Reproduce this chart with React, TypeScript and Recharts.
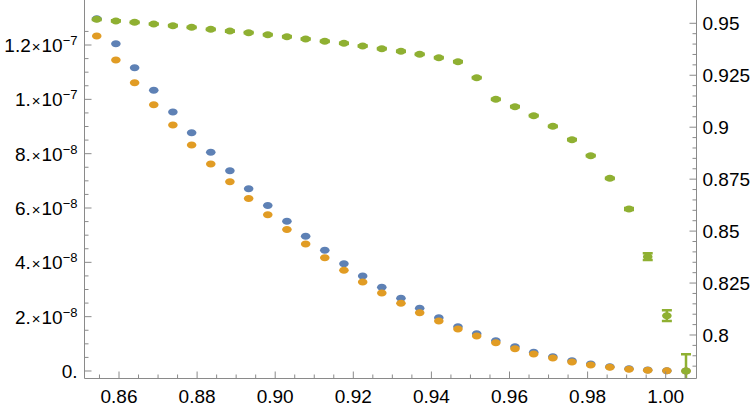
import React from 'react';
import { ScatterChart, Scatter, XAxis, YAxis, ErrorBar } from 'recharts';

// x positions shared by all three series
const xValues = [
  0.8543, 0.8592, 0.864, 0.8689, 0.8738, 0.8786, 0.8835, 0.8884,
  0.8932, 0.8981, 0.903, 0.9078, 0.9127, 0.9176, 0.9224, 0.9273,
  0.9322, 0.937, 0.9419, 0.9468, 0.9516, 0.9565, 0.9614, 0.9662,
  0.9711, 0.976, 0.9808, 0.9857, 0.9906, 0.9954, 1.0003, 1.0052,
];

const blueValues = [
  1.297e-7, 1.2048e-7, 1.1165e-7, 1.0333e-7, 9.534e-8, 8.772e-8, 8.05e-8, 7.373e-8,
  6.711e-8, 6.092e-8, 5.51e-8, 4.958e-8, 4.443e-8, 3.95e-8, 3.497e-8, 3.081e-8,
  2.676e-8, 2.308e-8, 1.962e-8, 1.631e-8, 1.373e-8, 1.115e-8, 8.94e-9, 6.88e-9,
  5.26e-9, 3.79e-9, 2.58e-9, 1.58e-9, 8.5e-10, 3.7e-10, 1.1e-10, 0,
];

const orangeValues = [
  1.2332e-7, 1.1448e-7, 1.0613e-7, 9.803e-8, 9.055e-8, 8.319e-8, 7.62e-8, 6.968e-8,
  6.35e-8, 5.754e-8, 5.209e-8, 4.675e-8, 4.171e-8, 3.707e-8, 3.276e-8, 2.871e-8,
  2.492e-8, 2.146e-8, 1.841e-8, 1.546e-8, 1.288e-8, 1.042e-8, 8.21e-9, 6.26e-9,
  4.79e-9, 3.31e-9, 2.21e-9, 1.36e-9, 6.3e-10, 2.6e-10, 5e-11, 0,
];

const greenValues = [
  0.95192, 0.95111, 0.95048, 0.94966, 0.94885, 0.94808, 0.94711, 0.94629,
  0.94548, 0.94451, 0.94355, 0.94245, 0.94134, 0.94038, 0.93908, 0.93778,
  0.93653, 0.93508, 0.93345, 0.93152, 0.92382, 0.91343, 0.90987, 0.90554,
  0.90044, 0.89399, 0.88629, 0.87541, 0.86064, 0.83769, 0.8093, 0.78269,
];

const greenErrors = [
  0.0003, 0.0003, 0.0003, 0.0003, 0.0003, 0.0003, 0.0003, 0.0003,
  0.0003, 0.0003, 0.0003, 0.0003, 0.0003, 0.0003, 0.0003, 0.0003,
  0.0003, 0.0003, 0.0003, 0.0003, 0.0003, 0.0003, 0.0003, 0.0003,
  0.0003, 0.0003, 0.0003, 0.0003, 0.0005, 0.0016, 0.0026, 0.008,
];

// tick values and labels
const xMajorTicks = [0.86, 0.88, 0.9, 0.92, 0.94, 0.96, 0.98, 1.0];
const xMinorTicks = [
  0.855, 0.865, 0.87, 0.875, 0.885, 0.89, 0.895, 0.905, 0.91, 0.915, 0.925, 0.93, 0.935,
  0.945, 0.95, 0.955, 0.965, 0.97, 0.975, 0.985, 0.99, 0.995, 1.005,
];
const leftMajorTicks = [0, 2e-8, 4e-8, 6e-8, 8e-8, 1e-7, 1.2e-7];
const leftMantissas = ['0.', '2.', '4.', '6.', '8.', '1.', '1.2'];
const leftExponents = ['', '\u22128', '\u22128', '\u22128', '\u22128', '\u22127', '\u22127'];
const leftMinorTicks = [
  5e-9, 1e-8, 1.5e-8, 2.5e-8, 3e-8, 3.5e-8, 4.5e-8, 5e-8, 5.5e-8, 6.5e-8, 7e-8, 7.5e-8,
  8.5e-8, 9e-8, 9.5e-8, 1.05e-7, 1.1e-7, 1.15e-7, 1.25e-7,
];
const rightMajorTicks = [0.8, 0.825, 0.85, 0.875, 0.9, 0.925, 0.95];
const rightLabels = ['0.8', '0.825', '0.85', '0.875', '0.9', '0.925', '0.95'];
const rightMinorTicks = [
  0.785, 0.79, 0.795, 0.805, 0.81, 0.815, 0.82, 0.83, 0.835, 0.84, 0.845, 0.855, 0.86,
  0.865, 0.87, 0.88, 0.885, 0.89, 0.895, 0.905, 0.91, 0.915, 0.92, 0.93, 0.935, 0.94, 0.945,
];

const BLUE = '#5E81B5';
const ORANGE = '#E19C24';
const GREEN = '#8FB032';
const AXIS = '#8a8a8a';
const FONT = '"Liberation Sans", Arial, sans-serif';

const blueData = xValues.map((x, i) => ({ x, y: blueValues[i] }));
const orangeData = xValues.map((x, i) => ({ x, y: orangeValues[i] }));
const greenData = xValues.map((x, i) => ({ x, y: greenValues[i], err: greenErrors[i] }));

const findIndex = (list: number[], v: number) =>
  list.findIndex((t) => Math.abs(t - v) < Math.abs(v) * 1e-6 + 1e-12);

const dot = (color: string) => (props: any) => (
  <ellipse cx={props.cx} cy={props.cy} rx={4.8} ry={3.5} fill={color} />
);

const XTick = (props: any) => {
  const { x, y, payload } = props;
  const idx = findIndex(xMajorTicks, payload.value);
  const major = idx >= 0;
  return (
    <g>
      <line x1={x} x2={x} y1={y} y2={y - (major ? 7 : 4)} stroke={AXIS} strokeWidth={1} />
      {major && (
        <text x={x} y={y + 24} textAnchor="middle" fontSize={19} fontFamily={FONT} fill="#000">
          {xMajorTicks[idx].toFixed(2)}
        </text>
      )}
    </g>
  );
};

const LeftTick = (props: any) => {
  const { x, y, payload } = props;
  const idx = findIndex(leftMajorTicks, payload.value);
  const major = idx >= 0;
  const exp = major ? leftExponents[idx] : '';
  return (
    <g>
      <line x1={x} x2={x + (major ? 7 : 4)} y1={y} y2={y} stroke={AXIS} strokeWidth={1} />
      {major && (
        <text x={x - 7} y={y + 7} textAnchor="end" fontSize={19} fontFamily={FONT} fill="#000">
          {exp ? (
            <>
              <tspan>{leftMantissas[idx]}</tspan>
              <tspan fontSize={15} dx={1}>{'\u00d7'}</tspan>
              <tspan dx={1}>10</tspan>
              <tspan fontSize={13} dy={-7}>{exp}</tspan>
            </>
          ) : (
            leftMantissas[idx]
          )}
        </text>
      )}
    </g>
  );
};

const RightTick = (props: any) => {
  const { x, y, payload } = props;
  const idx = findIndex(rightMajorTicks, payload.value);
  const major = idx >= 0;
  return (
    <g>
      <line x1={x} x2={x - (major ? 7 : 4)} y1={y} y2={y} stroke={AXIS} strokeWidth={1} />
      {major && (
        <text x={x + 6} y={y + 7} textAnchor="start" fontSize={19} fontFamily={FONT} fill="#000">
          {rightLabels[idx]}
        </text>
      )}
    </g>
  );
};

export default function App() {
  return (
    <div style={{ position: 'absolute', left: 0, top: 0, width: 750, height: 407, background: '#fff' }}>
      {/* error bars are not clipped by recharts, keep them inside the plot frame */}
      <svg width={0} height={0} style={{ position: 'absolute' }}>
        <defs>
          <clipPath id="plotFrame">
            <rect x={84.5} y={0} width={612} height={378.5} />
          </clipPath>
        </defs>
      </svg>
      <style>{'.recharts-errorBar { clip-path: url(#plotFrame); }'}</style>
      <ScatterChart width={750} height={407} margin={{ top: 0, right: 0, bottom: 0, left: 0 }}>
        <XAxis
          type="number"
          dataKey="x"
          domain={[0.851165, 1.007887]}
          allowDataOverflow
          ticks={[...xMajorTicks, ...xMinorTicks].sort((a, b) => a - b)}
          interval={0}
          height={28.5}
          tickSize={0}
          tickMargin={0}
          tickLine={false}
          tick={<XTick />}
          stroke={AXIS}
        />
        <YAxis
          yAxisId="left"
          type="number"
          dataKey="y"
          domain={[-2.761e-9, 1.3657e-7]}
          allowDataOverflow
          ticks={[...leftMajorTicks, ...leftMinorTicks].sort((a, b) => a - b)}
          interval={0}
          width={84.5}
          tickSize={0}
          tickMargin={0}
          tickLine={false}
          tick={<LeftTick />}
          stroke={AXIS}
        />
        <YAxis
          yAxisId="right"
          orientation="right"
          type="number"
          dataKey="y"
          domain={[0.779066, 0.96121]}
          allowDataOverflow
          ticks={[...rightMajorTicks, ...rightMinorTicks].sort((a, b) => a - b)}
          interval={0}
          width={53.5}
          tickSize={0}
          tickMargin={0}
          tickLine={false}
          tick={<RightTick />}
          stroke={AXIS}
        />
        <Scatter yAxisId="left" data={blueData} fill={BLUE} shape={dot(BLUE)} isAnimationActive={false} />
        <Scatter yAxisId="left" data={orangeData} fill={ORANGE} shape={dot(ORANGE)} isAnimationActive={false} />
        <Scatter yAxisId="right" data={greenData} fill={GREEN} shape={dot(GREEN)} isAnimationActive={false}>
          <ErrorBar dataKey="err" direction="y" width={5} strokeWidth={2.5} stroke={GREEN} isAnimationActive={false} />
        </Scatter>
      </ScatterChart>
    </div>
  );
}
